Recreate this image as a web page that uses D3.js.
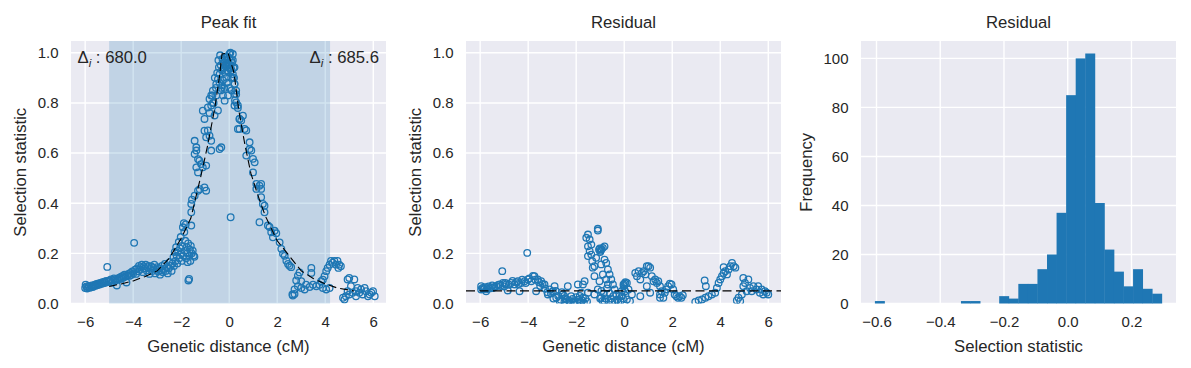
<!DOCTYPE html>
<html>
<head>
<meta charset="utf-8">
<script src="https://cdn.jsdelivr.net/npm/d3@7"></script>
<style>
body { margin: 0; background: #fff; }
text { font-family: "Liberation Sans", Arial, sans-serif; fill: #262626; }
</style>
</head>
<body>
<div id="chart"></div>
<script>
// ---- data ----
// peak fit panel: [genetic distance (cM), selection statistic]
var peakPts = [
  [-6.00,0.062],[-5.98,0.075],[-5.95,0.068],[-5.92,0.060],[-5.88,0.065],[-5.85,0.070],[-5.80,0.063],[-5.76,0.068],
  [-5.72,0.072],[-5.68,0.066],[-5.64,0.070],[-5.60,0.075],[-5.56,0.071],[-5.52,0.078],[-5.48,0.074],[-5.44,0.080],
  [-5.40,0.076],[-5.36,0.082],[-5.32,0.079],[-5.28,0.085],[-5.24,0.081],[-5.20,0.087],[-5.16,0.083],[-5.12,0.090],
  [-5.08,0.146],[-5.04,0.086],[-5.00,0.092],[-4.96,0.089],[-4.92,0.096],[-4.88,0.084],[-4.84,0.093],[-4.80,0.100],
  [-4.76,0.090],[-4.72,0.097],[-4.68,0.072],[-4.64,0.095],[-4.60,0.102],[-4.56,0.098],[-4.52,0.106],[-4.48,0.100],
  [-4.44,0.110],[-4.40,0.104],[-4.36,0.115],[-4.32,0.108],[-4.28,0.084],[-4.24,0.112],[-4.20,0.118],[-4.16,0.110],
  [-4.12,0.122],[-4.08,0.114],[-4.04,0.128],[-4.00,0.120],[-3.96,0.242],[-3.92,0.135],[-3.88,0.118],[-3.84,0.140],
  [-3.80,0.128],[-3.76,0.150],[-3.72,0.135],[-3.68,0.145],[-3.64,0.155],[-3.60,0.125],[-3.56,0.148],[-3.52,0.140],
  [-3.48,0.155],[-3.44,0.132],[-3.40,0.145],[-3.36,0.150],[-3.32,0.118],[-3.28,0.138],[-3.24,0.148],[-3.20,0.130],
  [-3.16,0.142],[-3.12,0.155],[-3.08,0.120],[-3.04,0.135],[-3.00,0.145],[-2.96,0.128],[-2.92,0.140],[-2.88,0.115],
  [-2.84,0.132],[-2.80,0.150],[-2.76,0.125],[-2.72,0.138],[-2.68,0.158],[-2.64,0.130],[-2.60,0.145],[-2.56,0.120],
  [-2.52,0.140],[-2.48,0.165],[-2.44,0.150],[-2.40,0.130],
  [-2.36,0.160],[-2.32,0.185],[-2.30,0.150],[-2.27,0.205],[-2.24,0.170],[-2.21,0.225],[-2.19,0.190],[-2.16,0.160],
  [-2.13,0.210],[-2.10,0.245],[-2.08,0.180],[-2.05,0.220],[-2.02,0.265],[-2.00,0.200],[-1.98,0.170],[-1.96,0.230],
  [-1.93,0.304],[-1.91,0.190],[-1.89,0.320],[-1.87,0.285],[-1.85,0.210],[-1.83,0.250],[-1.81,0.315],[-1.79,0.180],
  [-1.77,0.225],[-1.75,0.200],[-1.73,0.165],[-1.71,0.240],[-1.70,0.092],[-1.67,0.098],[-1.66,0.190],[-1.64,0.215],
  [-1.62,0.170],[-1.60,0.230],[-1.58,0.311],[-1.56,0.200],[-1.52,0.211],[-1.48,0.191],[-1.45,0.186],[-1.58,0.364],
  [-1.58,0.397],[-1.55,0.414],[-1.44,0.430],[-1.30,0.450],[-1.23,0.456],[-1.03,0.463],[-0.96,0.450],[-1.44,0.596],
  [-1.37,0.610],[-1.30,0.576],[-1.24,0.570],[-1.17,0.556],[-1.37,0.543],[-1.10,0.543],[-0.96,0.550],[-1.30,0.523],
  [-1.44,0.649],[-1.37,0.623],[-0.75,0.610],[-0.33,0.623],[-0.40,0.616],[0.06,0.344],[-1.03,0.689],[-0.89,0.690],
  [-0.82,0.669],[-0.96,0.663],[-0.75,0.649],[-1.10,0.769],[-1.03,0.736],[-0.89,0.782],[-0.82,0.816],[-0.75,0.830],
  [-0.68,0.849],[-0.82,0.760],[-0.61,0.750],[-0.47,0.770],[-0.68,0.800],[-0.54,0.875],[-0.47,0.895],[-0.40,0.915],
  [-0.33,0.860],[-0.43,0.942],[-0.26,0.890],[-0.19,0.809],[-0.05,0.928],[-0.12,0.955],[0.01,0.995],[-0.02,0.960],
  [0.06,0.940],[0.15,0.915],[0.22,0.875],[0.29,0.835],[0.08,0.900],[-0.12,0.900],[0.36,0.780],[0.43,0.736],
  [0.36,0.696],[0.22,0.790],[0.24,0.810],[-0.26,0.830],[-0.05,0.830],[-0.54,0.830],
  [-0.45,0.970],[-0.38,0.990],[-0.35,0.950],[-0.30,0.930],[-0.28,0.975],[-0.25,0.960],[-0.22,0.940],[-0.20,0.980],
  [-0.18,0.920],[-0.15,0.950],[-0.12,0.970],[-0.10,0.930],[-0.08,0.985],[-0.05,0.960],[-0.02,0.940],[0.00,0.980],
  [0.03,0.950],[0.05,1.000],[0.08,0.970],[0.10,0.930],[0.12,0.960],[0.18,0.940],[0.20,0.900],[-0.40,0.880],
  [-0.35,0.850],[-0.30,0.870],[-0.20,0.860],[-0.10,0.880],[0.00,0.860],[0.10,0.850],[-0.60,0.900],[-0.55,0.860],
  [-0.50,0.920],[-0.65,0.800],[-0.70,0.830],[-0.75,0.790],
  [0.15,0.995],[0.15,0.970],[0.22,0.942],[0.15,0.900],[0.22,0.876],[0.29,0.849],[0.22,0.835],[0.29,0.802],
  [0.36,0.790],[0.43,0.736],[0.57,0.749],[0.50,0.730],[0.43,0.696],[0.64,0.696],[0.71,0.690],[0.85,0.643],
  [0.85,0.616],[0.92,0.610],[0.71,0.590],[0.99,0.577],[1.06,0.563],[0.99,0.523],[1.13,0.477],[1.26,0.470],
  [1.33,0.477],[1.13,0.457],[1.33,0.457],[1.33,0.424],[1.40,0.397],[1.47,0.390],[1.47,0.364],[1.26,0.324],
  [1.61,0.311],[1.68,0.305],[1.75,0.284],[1.89,0.290],[1.96,0.280],[1.82,0.264],[2.10,0.244],[2.17,0.218],
  [2.24,0.198],[2.31,0.190],[2.38,0.171],[2.45,0.158],[2.51,0.151],[2.58,0.145],[2.79,0.092],[2.86,0.111],
  [2.93,0.124],[2.65,0.032],[2.72,0.038],
  [2.63,0.036],[2.72,0.056],[2.86,0.069],[3.00,0.089],[3.00,0.062],[3.14,0.056],[3.20,0.075],[3.35,0.066],
  [3.42,0.142],[3.42,0.122],[3.49,0.075],[3.63,0.069],[3.76,0.075],[3.83,0.089],[3.90,0.095],[3.97,0.109],
  [4.04,0.129],[4.10,0.142],[4.18,0.155],[4.24,0.170],[4.31,0.163],[4.38,0.170],[4.45,0.155],[4.51,0.170],
  [4.58,0.155],[4.55,0.142],[4.65,0.149],[4.18,0.062],[4.04,0.056],[3.90,0.062],[4.74,0.023],[4.80,0.016],
  [4.86,0.029],[4.93,0.049],[4.93,0.096],[5.00,0.102],[5.21,0.096],[5.07,0.069],[5.14,0.043],[5.28,0.049],
  [5.35,0.062],[5.42,0.043],[5.49,0.056],[5.64,0.062],[5.70,0.049],[5.78,0.029],[5.92,0.043],[5.99,0.049],
  [6.06,0.029],[5.85,0.036],[5.56,0.036],[5.28,0.029],[5.00,0.036]
];

// dashed peak fit
var fitX = [-5.0, -4.5, -4.0, -3.5, -3.0, -2.5, -2.0, -1.6, -1.2, -0.9, -0.6, -0.4, -0.3, -0.05,
            0.2, 0.4, 0.65, 0.9, 1.2, 1.5, 2.0, 2.5, 3.0, 3.5, 4.0, 4.5, 5.2];
var fitY = [0.068, 0.078, 0.090, 0.108, 0.130, 0.180, 0.260, 0.340, 0.500, 0.630, 0.780, 0.910, 0.995, 1.000,
            0.920, 0.770, 0.635, 0.520, 0.430, 0.350, 0.250, 0.190, 0.130, 0.100, 0.078, 0.062, 0.050];

// residual panel: [genetic distance (cM), residual]
var residPts = [
  [-5.96,0.069],[-5.96,0.056],[-5.75,0.049],[-5.61,0.060],[-5.47,0.062],[-5.33,0.069],[-5.19,0.076],[-5.05,0.082],
  [-5.08,0.129],[-4.92,0.076],[-4.85,0.052],[-4.71,0.082],[-4.57,0.076],[-4.43,0.089],[-4.36,0.049],[-4.29,0.082],
  [-4.15,0.089],[-4.04,0.202],[-4.01,0.096],[-3.87,0.089],[-3.74,0.109],[-3.67,0.049],[-3.60,0.096],[-3.46,0.089],
  [-3.32,0.076],[-3.18,0.036],[-3.11,0.056],[-2.97,0.049],[-2.90,0.069],[-2.83,0.023],[-2.69,0.009],[-2.56,0.036],
  [-2.42,0.016],[-2.35,0.069],[-2.21,0.029],[-2.07,0.003],[-1.93,0.076],[-1.79,0.043],[-1.72,0.076],[-1.65,0.089],
  [-1.58,0.262],[-1.51,0.275],[-1.44,0.255],[-1.37,0.235],[-1.51,0.228],[-1.44,0.209],[-1.37,0.195],[-1.51,0.189],
  [-1.33,0.169],[-1.17,0.182],[-1.10,0.291],[-1.10,0.298],[-0.89,0.222],[-0.96,0.215],[-0.82,0.228],[-1.31,0.143],
  [-1.24,0.149],[-0.96,0.156],[-0.82,0.175],[-0.75,0.162],[-0.68,0.136],[-0.61,0.116],[-0.54,0.096],[-0.47,0.076],
  [-0.40,0.056],[-0.33,0.036],[-0.75,0.096],[-0.68,0.076],[-0.89,0.116],[-1.03,0.089],[-1.10,0.056],[-0.96,0.023],
  [-0.82,0.009],[-1.24,0.036],[-1.24,0.109],[-1.51,0.043],[-1.72,0.023],[-1.86,0.009],[-2.28,0.006],[-2.49,0.006],
  [-1.00,0.020],[-0.95,0.050],[-0.90,0.010],[-0.85,0.040],[-0.78,0.020],[-0.72,0.060],[-0.65,0.010],[-0.60,0.040],
  [-0.55,0.020],[-0.50,0.005],[-0.45,0.030],[-0.38,0.010],[-0.30,0.015],[-0.25,0.005],[-0.20,0.030],[-0.15,0.010],
  [-0.10,0.050],[-0.05,0.020],[0.00,0.060],[0.02,0.080],[0.05,0.085],[-0.02,0.070],
  [-2.45,0.020],[-2.40,0.005],[-2.30,0.012],[-2.25,0.003],[-2.15,0.018],[-2.10,0.008],[-2.00,0.025],[-1.95,0.004],
  [-1.90,0.015],[-1.85,0.030],[-1.80,0.006],[-1.75,0.012],[-1.68,0.002],[-1.62,0.020],[-1.55,0.008],
  [-3.30,0.060],[-3.20,0.045],[-3.05,0.040],[-2.95,0.020],[-2.85,0.050],[-2.75,0.030],[-2.65,0.015],[-2.60,0.045],
  [-2.50,0.030],[-1.05,0.215],[-1.02,0.220],[-0.98,0.210],[-1.00,0.205],[-0.95,0.218],
  [-5.90,0.062],[-5.85,0.058],[-5.80,0.065],[-5.70,0.058],[-5.65,0.068],[-5.55,0.064],[-5.50,0.072],[-5.40,0.066],
  [-5.25,0.074],[-5.15,0.070],[-5.00,0.068],[-4.95,0.082],[-4.80,0.075],[-4.65,0.090],[-4.50,0.085],[-4.40,0.078],
  [-4.25,0.095],[-4.10,0.082],[-3.95,0.100],[-3.80,0.110],[-3.70,0.095],[-3.55,0.085],[-3.40,0.078],[-3.50,0.070],
  [-0.03,0.076],[0.04,0.049],[0.11,0.082],[-0.10,0.029],[0.11,0.016],[0.24,0.009],[0.32,0.036],[0.18,0.056],
  [0.46,0.122],[0.53,0.109],[0.60,0.129],[0.67,0.096],[0.67,0.029],[0.74,0.122],[0.81,0.129],[0.88,0.116],
  [0.94,0.149],[1.01,0.149],[1.08,0.143],[1.08,0.043],[0.94,0.069],[1.15,0.109],[1.22,0.089],[1.29,0.096],
  [1.36,0.082],[1.42,0.089],[1.49,0.069],[1.49,0.036],[1.56,0.049],[1.49,0.023],[1.63,0.023],[1.69,0.043],
  [1.76,0.056],[1.83,0.069],[1.90,0.079],[1.97,0.076],[2.04,0.056],[2.10,0.036],[2.17,0.029],[2.31,0.029],
  [2.44,0.033],[2.24,0.023],[2.38,0.023],[2.96,0.006],[3.10,0.012],[3.24,0.016],[3.38,0.023],[3.35,0.092],
  [3.40,0.069],[3.51,0.029],[3.65,0.036],[3.79,0.043],[3.86,0.062],[3.93,0.082],[4.00,0.096],[4.07,0.109],
  [4.14,0.122],[4.14,0.145],[4.21,0.129],[4.28,0.116],[4.35,0.136],[4.42,0.149],[4.49,0.162],[4.56,0.149],
  [4.63,0.143],[4.76,0.023],[4.83,0.009],[4.90,0.036],[4.96,0.069],[4.96,0.102],[5.03,0.082],[5.10,0.049],
  [5.17,0.096],[5.24,0.062],[5.31,0.049],[5.38,0.069],[5.51,0.056],[5.58,0.069],[5.65,0.043],[5.72,0.056],
  [5.79,0.036],[5.86,0.049],[5.93,0.043],[6.00,0.036],[4.69,0.012]
];

// histogram of residuals: first bin edge, bin width, counts
var histStart = -0.605;
var histBinWidth = 0.03;
var histCounts = [1, 0, 0, 0, 0, 0, 0, 0, 0, 1, 1, 0, 0, 3, 2, 8, 8, 14, 20, 37,
                  85, 100, 102, 41, 22, 13, 7, 14, 6, 4];

var distTicks = [-6, -4, -2, 0, 2, 4, 6];
var statTicks = [0, 0.2, 0.4, 0.6, 0.8, 1.0];
var residTicks = [-0.6, -0.4, -0.2, 0.0, 0.2];
var freqTicks = [0, 20, 40, 60, 80, 100];
var spanRange = [-5.0, 4.2];
var deltaLabels = ["680.0", "685.6"];
var residLevel = 0.05;
var titles = ["Peak fit", "Residual", "Residual"];

// ---- layout ----
var width = 1191, height = 368;
var plotTop = 41, pw = 315, ph = 262.5;
var lefts = [71, 466, 861];
var blue = "#1f77b4";

var svg = d3.select("#chart").append("svg")
            .attr("width", width)
            .attr("height", height);

var xDist = d3.scaleLinear().domain([-6.59, 6.53]).range([0, pw]);
var yStat = d3.scaleLinear().domain([0, 1.047]).range([ph, 0]);
var xRes = d3.scaleLinear().domain([-0.6486, 0.3397]).range([0, pw]);
var yFreq = d3.scaleLinear().domain([0, 107.1]).range([ph, 0]);

function makePanel(i, x, y, xt, yt, xfmt, yfmt, title, xlabel, ylabel, ylabelX) {
  var g = svg.append("g").attr("transform", "translate(" + lefts[i] + "," + plotTop + ")");
  g.append("rect").attr("width", pw).attr("height", ph).attr("fill", "#eaeaf2");
  g.append("clipPath").attr("id", "clip" + i)
   .append("rect").attr("width", pw).attr("height", ph);
  g.selectAll(".vg").data(xt).enter().append("line")
   .attr("x1", x).attr("x2", x).attr("y1", 0).attr("y2", ph)
   .attr("stroke", "#fff").attr("stroke-width", 1.4);
  g.selectAll(".hg").data(yt).enter().append("line")
   .attr("y1", y).attr("y2", y).attr("x1", 0).attr("x2", pw)
   .attr("stroke", "#fff").attr("stroke-width", 1.4);

  var ax = g.append("g").attr("transform", "translate(0," + ph + ")")
            .call(d3.axisBottom(x).tickValues(xt).tickSize(0).tickPadding(13).tickFormat(xfmt));
  var ay = g.append("g")
            .call(d3.axisLeft(y).tickValues(yt).tickSize(0).tickPadding(12.5).tickFormat(yfmt));
  [ax, ay].forEach(function(a) {
    a.select(".domain").remove();
    a.attr("font-family", null).attr("font-size", null);
    a.selectAll("text").style("font-size", "15px").attr("fill", "#262626");
  });

  svg.append("text").attr("x", lefts[i] + pw / 2).attr("y", 28)
     .attr("text-anchor", "middle").style("font-size", "16.7px").text(title);
  svg.append("text").attr("x", lefts[i] + pw / 2).attr("y", 352)
     .attr("text-anchor", "middle").style("font-size", "16.7px").text(xlabel);
  svg.append("text").attr("transform", "translate(" + ylabelX + "," + (plotTop + ph / 2) + ") rotate(-90)")
     .attr("text-anchor", "middle").style("font-size", "16.7px").text(ylabel);
  return g;
}

var fmtInt = d3.format("d"), fmt1 = d3.format(".1f");

// panel 1: peak fit
var g1 = makePanel(0, xDist, yStat, distTicks, statTicks, fmtInt, fmt1,
                   titles[0], "Genetic distance (cM)", "Selection statistic", 26);
g1.append("rect")
  .attr("x", xDist(spanRange[0])).attr("width", xDist(spanRange[1]) - xDist(spanRange[0]))
  .attr("y", 0).attr("height", ph)
  .attr("fill", blue).attr("fill-opacity", 0.2);
g1.append("g").attr("clip-path", "url(#clip0)")
  .selectAll("circle").data(peakPts).enter().append("circle")
  .attr("cx", function(d) { return xDist(d[0]); })
  .attr("cy", function(d) { return yStat(d[1]); })
  .attr("r", 3.3)
  .attr("fill", "none").attr("stroke", blue).attr("stroke-width", 1.3);
var fitLine = d3.line()
  .x(function(d, i) { return xDist(fitX[i]); })
  .y(function(d) { return yStat(d); });
g1.append("path").datum(fitY).attr("d", fitLine)
  .attr("fill", "none").attr("stroke", "#000").attr("stroke-width", 1.1)
  .attr("stroke-dasharray", "8,4");

var dl = g1.append("text").attr("x", 6.5).attr("y", 21.5).style("font-size", "16.7px");
dl.append("tspan").text("Δ");
dl.append("tspan").attr("dy", 4).style("font-size", "11.5px").style("font-style", "italic").text("i");
dl.append("tspan").attr("dy", -4).text(" : " + deltaLabels[0]);
var dr = g1.append("text").attr("x", pw - 7).attr("y", 21.5).attr("text-anchor", "end").style("font-size", "16.7px");
dr.append("tspan").text("Δ");
dr.append("tspan").attr("dy", 4).style("font-size", "11.5px").style("font-style", "italic").text("i");
dr.append("tspan").attr("dy", -4).text(" : " + deltaLabels[1]);

// panel 2: residual scatter
var g2 = makePanel(1, xDist, yStat, distTicks, statTicks, fmtInt, fmt1,
                   titles[1], "Genetic distance (cM)", "Selection statistic", 421);
g2.append("g").attr("clip-path", "url(#clip1)")
  .selectAll("circle").data(residPts).enter().append("circle")
  .attr("cx", function(d) { return xDist(d[0]); })
  .attr("cy", function(d) { return yStat(d[1]); })
  .attr("r", 3.3)
  .attr("fill", "none").attr("stroke", blue).attr("stroke-width", 1.3);
g2.append("line")
  .attr("x1", 0).attr("x2", pw)
  .attr("y1", yStat(residLevel)).attr("y2", yStat(residLevel))
  .attr("stroke", "#000").attr("stroke-width", 1.2).attr("stroke-dasharray", "9,4.5");

// panel 3: histogram
var g3 = makePanel(2, xRes, yFreq, residTicks, freqTicks, fmt1, fmtInt,
                   titles[2], "Selection statistic", "Frequency", 812);
g3.selectAll(".bar").data(histCounts).enter().append("rect")
  .attr("x", function(d, i) { return xRes(histStart + i * histBinWidth); })
  .attr("width", function(d, i) { return xRes(histStart + (i + 1) * histBinWidth) - xRes(histStart + i * histBinWidth) + 0.4; })
  .attr("y", function(d) { return yFreq(d); })
  .attr("height", function(d) { return ph - yFreq(d); })
  .attr("fill", blue);
</script>
</body>
</html>
